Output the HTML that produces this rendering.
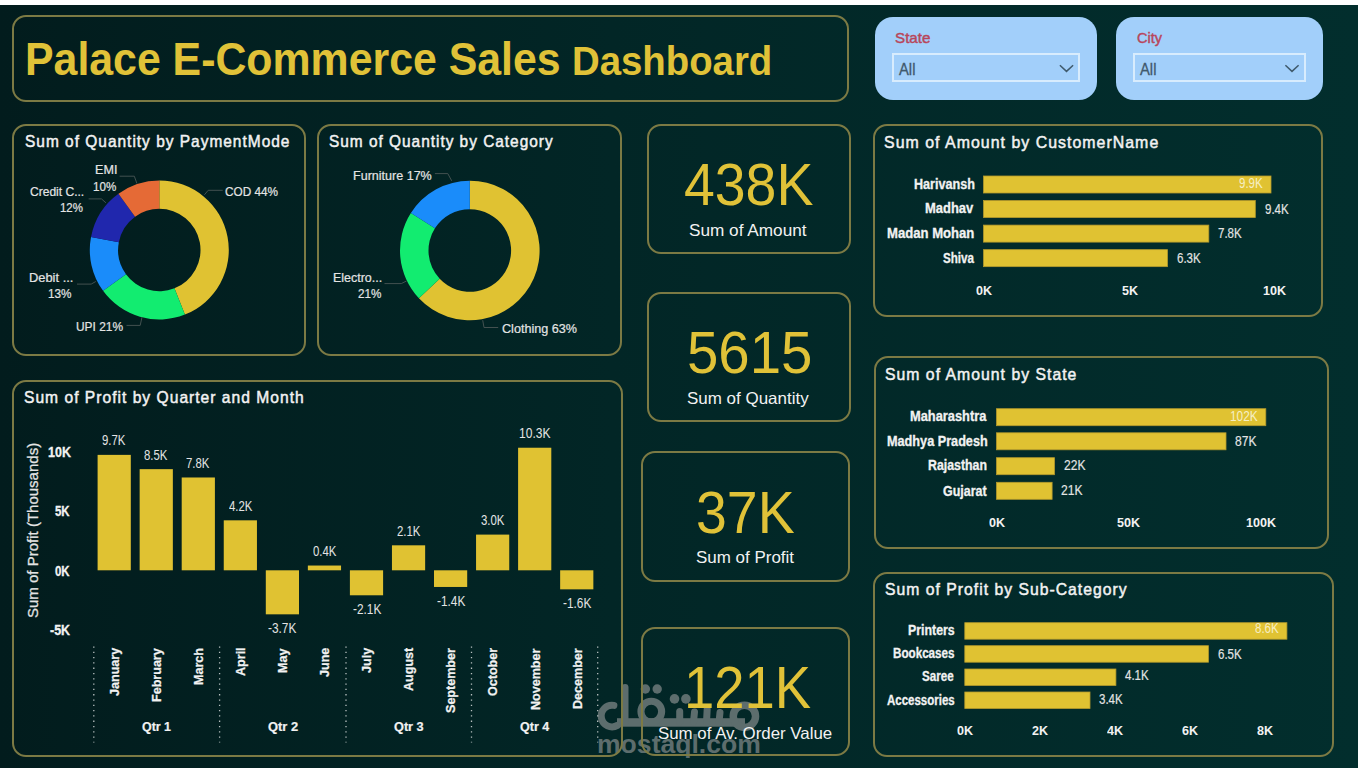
<!DOCTYPE html>
<html><head><meta charset="utf-8"><style>
html,body{margin:0;padding:0;width:1358px;height:775px;overflow:hidden;background:#fff}
#bg{position:absolute;left:0;top:5.3px;width:1358px;height:763.1px;background:linear-gradient(90deg,#021c1d 0%,#022626 45%,#022e2d 100%)}
.p{position:absolute;box-sizing:border-box;border:2px solid #7c7a44}
.t{position:absolute;white-space:nowrap;line-height:normal}
svg{position:absolute;left:0;top:0}
</style></head><body>
<div id="bg"></div>
<svg width="1358" height="775" viewBox="0 0 1358 775" style="position:absolute;left:0;top:0">
<g fill="#5d6d6d">
<circle cx="645.4" cy="689" r="4.7"/><circle cx="657.2" cy="689" r="4.7"/>
<circle cx="674.5" cy="698.9" r="4.8"/><circle cx="685.9" cy="698.9" r="4.8"/>
<rect x="617" y="718.2" width="128" height="8.5"/>
</g>
<g fill="none" stroke="#5d6d6d" stroke-linecap="round">
<path d="M613.9,705.4 A10.8,10.8 0 1 0 617.4,725.4" stroke-width="7"/>
<line x1="625.1" y1="687.5" x2="625.1" y2="722" stroke-width="6.8"/>
<circle cx="651.3" cy="711.6" r="10.35" stroke-width="7.1"/>
<circle cx="744.4" cy="716.3" r="11.15" stroke-width="7.5"/>
<line x1="679.7" y1="711.5" x2="679.7" y2="722" stroke-width="7"/>
<line x1="694.5" y1="712" x2="693.5" y2="722" stroke-width="7"/>
<line x1="707.2" y1="709" x2="706.5" y2="722" stroke-width="7"/>
<line x1="720" y1="712.5" x2="719" y2="722" stroke-width="7"/>
</g></svg><div class="t" style="left:596.98px;top:728.80px;font-family:'Liberation Sans';font-size:26.14px;font-weight:700;color:#5d6d6d;transform-origin:0 0;transform:scaleX(1.0170)">mostaql.com</div>
<div class="p" style="left:12.0px;top:14.5px;width:837.0px;height:87.3px;border-radius:14px"></div><div class="p" style="left:12.0px;top:124.2px;width:294.3px;height:231.8px;border-radius:14px"></div><div class="p" style="left:316.7px;top:124.2px;width:305.6px;height:231.8px;border-radius:14px"></div><div class="p" style="left:12.0px;top:379.5px;width:610.5px;height:377.0px;border-radius:14px"></div><div class="p" style="left:646.7px;top:123.6px;width:204.1px;height:130.4px;border-radius:14px"></div><div class="p" style="left:646.7px;top:291.7px;width:204.1px;height:130.1px;border-radius:14px"></div><div class="p" style="left:641.2px;top:450.9px;width:208.7px;height:130.9px;border-radius:14px"></div><div class="p" style="left:640.9px;top:626.8px;width:209.0px;height:129.7px;border-radius:14px"></div><div class="p" style="left:872.7px;top:124.3px;width:450.3px;height:192.3px;border-radius:14px"></div><div class="p" style="left:874.0px;top:356.4px;width:455.2px;height:192.6px;border-radius:14px"></div><div class="p" style="left:872.5px;top:571.9px;width:461.5px;height:185.4px;border-radius:14px"></div>
<div style="position:absolute;left:875.3px;top:17.1px;width:221.6px;height:83.4px;border-radius:18px;background:#a2cffa"></div><div style="position:absolute;left:892.4px;top:52.5px;width:183.3px;height:25.6px;border:2px solid #d8ecfd"></div><div style="position:absolute;left:1116px;top:17.1px;width:206.7px;height:83.4px;border-radius:18px;background:#a2cffa"></div><div style="position:absolute;left:1133.3px;top:52.5px;width:168.3px;height:25.6px;border:2px solid #d8ecfd"></div>
<svg width="1358" height="775" viewBox="0 0 1358 775"><path d="M159.30,180.50 A69.5,69.5 0 0 1 184.88,314.62 L174.47,288.31 A41.2,41.2 0 0 0 159.30,208.80 Z" fill="#e0c232"/><path d="M184.88,314.62 A69.5,69.5 0 0 1 103.07,290.85 L125.97,274.22 A41.2,41.2 0 0 0 174.47,288.31 Z" fill="#12ec70"/><path d="M103.07,290.85 A69.5,69.5 0 0 1 91.03,236.98 L118.83,242.28 A41.2,41.2 0 0 0 125.97,274.22 Z" fill="#1a8cfa"/><path d="M91.03,236.98 A69.5,69.5 0 0 1 118.45,193.77 L135.08,216.67 A41.2,41.2 0 0 0 118.83,242.28 Z" fill="#2027ad"/><path d="M118.45,193.77 A69.5,69.5 0 0 1 159.30,180.50 L159.30,208.80 A41.2,41.2 0 0 0 135.08,216.67 Z" fill="#e56a36"/><path d="M469.80,180.70 A69.8,69.8 0 1 1 418.92,298.28 L439.69,278.77 A41.3,41.3 0 1 0 469.80,209.20 Z" fill="#e0c232"/><path d="M418.92,298.28 A69.8,69.8 0 0 1 410.87,213.10 L434.93,228.37 A41.3,41.3 0 0 0 439.69,278.77 Z" fill="#12ec70"/><path d="M410.87,213.10 A69.8,69.8 0 0 1 469.80,180.70 L469.80,209.20 A41.3,41.3 0 0 0 434.93,228.37 Z" fill="#1a8cfa"/><polyline points="119.6,176.2 134.3,176.2 136.9,183.4" fill="none" stroke="#435150" stroke-width="1"/><polyline points="88.6,198.9 101.5,198.9 105.9,202.8" fill="none" stroke="#435150" stroke-width="1"/><polyline points="222.7,190.3 208.2,190.3 204.4,194.8" fill="none" stroke="#435150" stroke-width="1"/><polyline points="77.0,284.1 91.2,284.1 95.8,281.5" fill="none" stroke="#435150" stroke-width="1"/><polyline points="126.5,325.4 140.2,325.4 142.0,317.1" fill="none" stroke="#435150" stroke-width="1"/><polyline points="434.9,173.6 447.8,173.6 451.7,180.8" fill="none" stroke="#435150" stroke-width="1"/><polyline points="384.5,283.6 401.3,283.6 406.5,281.0" fill="none" stroke="#435150" stroke-width="1"/><polyline points="498.2,327.5 484.0,327.5 482.7,320.2" fill="none" stroke="#435150" stroke-width="1"/><rect x="97.60" y="454.87" width="33.2" height="115.43" fill="#e0c232"/><rect x="139.65" y="469.15" width="33.2" height="101.15" fill="#e0c232"/><rect x="181.70" y="477.48" width="33.2" height="92.82" fill="#e0c232"/><rect x="223.75" y="520.32" width="33.2" height="49.98" fill="#e0c232"/><rect x="265.80" y="570.30" width="33.2" height="44.03" fill="#e0c232"/><rect x="307.85" y="565.54" width="33.2" height="4.76" fill="#e0c232"/><rect x="349.90" y="570.30" width="33.2" height="24.99" fill="#e0c232"/><rect x="391.95" y="545.31" width="33.2" height="24.99" fill="#e0c232"/><rect x="434.00" y="570.30" width="33.2" height="16.66" fill="#e0c232"/><rect x="476.05" y="534.60" width="33.2" height="35.70" fill="#e0c232"/><rect x="518.10" y="447.73" width="33.2" height="122.57" fill="#e0c232"/><rect x="560.15" y="570.30" width="33.2" height="19.04" fill="#e0c232"/><line x1="93.8" y1="646.4" x2="93.8" y2="742.5" stroke="#b8c0c0" stroke-width="1.3" stroke-dasharray="1.3 4.0"/><line x1="219.6" y1="646.4" x2="219.6" y2="742.5" stroke="#b8c0c0" stroke-width="1.3" stroke-dasharray="1.3 4.0"/><line x1="346" y1="646.4" x2="346" y2="742.5" stroke="#b8c0c0" stroke-width="1.3" stroke-dasharray="1.3 4.0"/><line x1="471.5" y1="646.4" x2="471.5" y2="742.5" stroke="#b8c0c0" stroke-width="1.3" stroke-dasharray="1.3 4.0"/><line x1="597.7" y1="646.4" x2="597.7" y2="742.5" stroke="#b8c0c0" stroke-width="1.3" stroke-dasharray="1.3 4.0"/><rect x="983.60" y="176.00" width="287.40" height="17" fill="#e0c232" stroke="#b59a2c" stroke-width="0.8"/><rect x="983.60" y="200.55" width="271.70" height="17" fill="#e0c232" stroke="#b59a2c" stroke-width="0.8"/><rect x="983.60" y="225.10" width="225.20" height="17" fill="#e0c232" stroke="#b59a2c" stroke-width="0.8"/><rect x="983.60" y="249.65" width="183.90" height="17" fill="#e0c232" stroke="#b59a2c" stroke-width="0.8"/><rect x="996.50" y="408.70" width="269.30" height="17" fill="#e0c232" stroke="#b59a2c" stroke-width="0.8"/><rect x="996.50" y="432.80" width="229.50" height="17" fill="#e0c232" stroke="#b59a2c" stroke-width="0.8"/><rect x="996.50" y="457.70" width="58.00" height="17" fill="#e0c232" stroke="#b59a2c" stroke-width="0.8"/><rect x="996.50" y="482.30" width="55.60" height="17" fill="#e0c232" stroke="#b59a2c" stroke-width="0.8"/><rect x="964.80" y="622.70" width="322.10" height="16.5" fill="#e0c232" stroke="#b59a2c" stroke-width="0.8"/><rect x="964.80" y="645.70" width="243.60" height="16.5" fill="#e0c232" stroke="#b59a2c" stroke-width="0.8"/><rect x="964.80" y="669.00" width="151.10" height="16.5" fill="#e0c232" stroke="#b59a2c" stroke-width="0.8"/><rect x="964.80" y="692.00" width="125.20" height="16.5" fill="#e0c232" stroke="#b59a2c" stroke-width="0.8"/><polyline points="1059.9,65.2 1066.5,71.4 1073.1000000000001,65.2" fill="none" stroke="#3f5a6c" stroke-width="1.5"/><polyline points="1285.4,65.2 1292.0,71.4 1298.6000000000001,65.2" fill="none" stroke="#3f5a6c" stroke-width="1.5"/></svg>
<div class="t" style="left:24.89px;top:34.30px;font-family:'Liberation Sans';font-size:45.79px;font-weight:700;color:#e0c238;transform-origin:0 0;transform:scaleX(0.9354)">Palace E-Commerce Sales</div><div class="t" style="left:572.37px;top:39.30px;font-family:'Liberation Sans';font-size:39.83px;font-weight:700;color:#e0c238;transform-origin:0 0;transform:scaleX(0.9627)">Dashboard</div><div class="t" style="left:894.91px;top:28.70px;font-family:'Liberation Sans';font-size:15.41px;font-weight:400;color:#b8465a;-webkit-text-stroke:0.45px #b8465a;transform-origin:0 0;transform:scaleX(0.9857)">State</div><div class="t" style="left:898.90px;top:60.00px;font-family:'Liberation Sans';font-size:16.13px;font-weight:400;color:#41596c;-webkit-text-stroke:0.3px #41596c;transform-origin:0 0;transform:scaleX(0.9176)">All</div><div class="t" style="left:1136.50px;top:28.70px;font-family:'Liberation Sans';font-size:15.41px;font-weight:400;color:#b8465a;-webkit-text-stroke:0.45px #b8465a;transform-origin:0 0;transform:scaleX(0.9407)">City</div><div class="t" style="left:1140.00px;top:60.00px;font-family:'Liberation Sans';font-size:16.13px;font-weight:400;color:#41596c;-webkit-text-stroke:0.3px #41596c;transform-origin:0 0;transform:scaleX(0.9176)">All</div><div class="t" style="left:24.50px;top:131.40px;font-family:'Liberation Sans';font-size:17.15px;font-weight:400;color:#f2f2f2;-webkit-text-stroke:0.5px #f2f2f2;letter-spacing:1.1px;transform-origin:0 0;transform:scaleX(0.9027)">Sum of Quantity by PaymentMode</div><div class="t" style="left:329.10px;top:131.40px;font-family:'Liberation Sans';font-size:17.15px;font-weight:400;color:#f2f2f2;-webkit-text-stroke:0.5px #f2f2f2;letter-spacing:1.1px;transform-origin:0 0;transform:scaleX(0.8992)">Sum of Quantity by Category</div><div class="t" style="left:24.09px;top:386.80px;font-family:'Liberation Sans';font-size:17.15px;font-weight:400;color:#f2f2f2;-webkit-text-stroke:0.5px #f2f2f2;letter-spacing:1.1px;transform-origin:0 0;transform:scaleX(0.9115)">Sum of Profit by Quarter and Month</div><div class="t" style="left:884.37px;top:131.50px;font-family:'Liberation Sans';font-size:17.15px;font-weight:400;color:#f2f2f2;-webkit-text-stroke:0.5px #f2f2f2;letter-spacing:1.1px;transform-origin:0 0;transform:scaleX(0.9276)">Sum of Amount by CustomerName</div><div class="t" style="left:885.28px;top:363.60px;font-family:'Liberation Sans';font-size:17.15px;font-weight:400;color:#f2f2f2;-webkit-text-stroke:0.5px #f2f2f2;letter-spacing:1.1px;transform-origin:0 0;transform:scaleX(0.9203)">Sum of Amount by State</div><div class="t" style="left:884.68px;top:578.60px;font-family:'Liberation Sans';font-size:17.15px;font-weight:400;color:#f2f2f2;-webkit-text-stroke:0.5px #f2f2f2;letter-spacing:1.1px;transform-origin:0 0;transform:scaleX(0.9179)">Sum of Profit by Sub-Category</div><div class="t" style="left:95.31px;top:161.60px;font-family:'Liberation Sans';font-size:12.79px;font-weight:400;color:#e4e4e4;-webkit-text-stroke:0.2px #e4e4e4;transform-origin:0 0;transform:scaleX(0.9857)">EMI</div><div class="t" style="left:93.39px;top:178.60px;font-family:'Liberation Sans';font-size:12.79px;font-weight:400;color:#e4e4e4;-webkit-text-stroke:0.2px #e4e4e4;transform-origin:0 0;transform:scaleX(0.9080)">10%</div><div class="t" style="left:29.70px;top:183.80px;font-family:'Liberation Sans';font-size:12.79px;font-weight:400;color:#e4e4e4;-webkit-text-stroke:0.2px #e4e4e4;transform-origin:0 0;transform:scaleX(0.9421)">Credit C...</div><div class="t" style="left:60.10px;top:200.30px;font-family:'Liberation Sans';font-size:12.79px;font-weight:400;color:#e4e4e4;-webkit-text-stroke:0.2px #e4e4e4;transform-origin:0 0;transform:scaleX(0.8960)">12%</div><div class="t" style="left:225.40px;top:183.80px;font-family:'Liberation Sans';font-size:12.79px;font-weight:400;color:#e4e4e4;-webkit-text-stroke:0.2px #e4e4e4;transform-origin:0 0;transform:scaleX(0.9224)">COD 44%</div><div class="t" style="left:28.99px;top:269.50px;font-family:'Liberation Sans';font-size:12.79px;font-weight:400;color:#e4e4e4;-webkit-text-stroke:0.2px #e4e4e4;transform-origin:0 0;transform:scaleX(1.0071)">Debit ...</div><div class="t" style="left:48.38px;top:286.30px;font-family:'Liberation Sans';font-size:12.79px;font-weight:400;color:#e4e4e4;-webkit-text-stroke:0.2px #e4e4e4;transform-origin:0 0;transform:scaleX(0.9200)">13%</div><div class="t" style="left:75.57px;top:318.60px;font-family:'Liberation Sans';font-size:12.79px;font-weight:400;color:#e4e4e4;-webkit-text-stroke:0.2px #e4e4e4;transform-origin:0 0;transform:scaleX(0.9327)">UPI 21%</div><div class="t" style="left:353.02px;top:167.50px;font-family:'Liberation Sans';font-size:12.79px;font-weight:400;color:#e4e4e4;-webkit-text-stroke:0.2px #e4e4e4;transform-origin:0 0;transform:scaleX(0.9810)">Furniture 17%</div><div class="t" style="left:333.22px;top:269.50px;font-family:'Liberation Sans';font-size:12.79px;font-weight:400;color:#e4e4e4;-webkit-text-stroke:0.2px #e4e4e4;transform-origin:0 0;transform:scaleX(0.9755)">Electro...</div><div class="t" style="left:358.20px;top:286.30px;font-family:'Liberation Sans';font-size:12.79px;font-weight:400;color:#e4e4e4;-webkit-text-stroke:0.2px #e4e4e4;transform-origin:0 0;transform:scaleX(0.9154)">21%</div><div class="t" style="left:501.50px;top:320.60px;font-family:'Liberation Sans';font-size:12.79px;font-weight:400;color:#e4e4e4;-webkit-text-stroke:0.2px #e4e4e4;transform-origin:0 0;transform:scaleX(0.9855)">Clothing 63%</div><div class="t" style="left:683.86px;top:150.90px;font-family:'Liberation Sans';font-size:59.01px;font-weight:400;color:#e0c238;transform-origin:0 0;transform:scaleX(0.9390)">438K</div><div class="t" style="left:686.89px;top:319.00px;font-family:'Liberation Sans';font-size:59.01px;font-weight:400;color:#e0c238;transform-origin:0 0;transform:scaleX(0.9559)">5615</div><div class="t" style="left:696.32px;top:478.60px;font-family:'Liberation Sans';font-size:59.01px;font-weight:400;color:#e0c238;transform-origin:0 0;transform:scaleX(0.9392)">37K</div><div class="t" style="left:683.51px;top:653.60px;font-family:'Liberation Sans';font-size:59.01px;font-weight:400;color:#e0c238;transform-origin:0 0;transform:scaleX(0.9226)">121K</div><div class="t" style="left:688.64px;top:220.60px;font-family:'Liberation Sans';font-size:16.28px;font-weight:400;color:#f2f2f2;transform-origin:0 0;transform:scaleX(1.0568)">Sum of Amount</div><div class="t" style="left:686.86px;top:388.70px;font-family:'Liberation Sans';font-size:16.28px;font-weight:400;color:#f2f2f2;transform-origin:0 0;transform:scaleX(1.0431)">Sum of Quantity</div><div class="t" style="left:696.26px;top:548.30px;font-family:'Liberation Sans';font-size:16.28px;font-weight:400;color:#f2f2f2;transform-origin:0 0;transform:scaleX(1.0430)">Sum of Profit</div><div class="t" style="left:657.96px;top:724.20px;font-family:'Liberation Sans';font-size:16.28px;font-weight:400;color:#f2f2f2;transform-origin:0 0;transform:scaleX(1.0359)">Sum of Av. Order Value</div><div class="t" style="left:47.60px;top:444.10px;font-family:'Liberation Sans';font-size:13.81px;font-weight:700;color:#f2f2f2;-webkit-text-stroke:0.3px #f2f2f2;transform-origin:0 0;transform:scaleX(0.9042)">10K</div><div class="t" style="left:55.30px;top:503.20px;font-family:'Liberation Sans';font-size:13.81px;font-weight:700;color:#f2f2f2;-webkit-text-stroke:0.3px #f2f2f2;transform-origin:0 0;transform:scaleX(0.8278)">5K</div><div class="t" style="left:55.30px;top:562.60px;font-family:'Liberation Sans';font-size:13.81px;font-weight:700;color:#f2f2f2;-webkit-text-stroke:0.3px #f2f2f2;transform-origin:0 0;transform:scaleX(0.8278)">0K</div><div class="t" style="left:50.40px;top:621.70px;font-family:'Liberation Sans';font-size:13.81px;font-weight:700;color:#f2f2f2;-webkit-text-stroke:0.3px #f2f2f2;transform-origin:0 0;transform:scaleX(0.9000)">-5K</div><div class="t" style="left:102.35px;top:432.27px;font-family:'Liberation Sans';font-size:13.95px;font-weight:400;color:#e4e4e4;transform-origin:0 0;transform:scaleX(0.8172)">9.7K</div><div class="t" style="left:144.40px;top:446.55px;font-family:'Liberation Sans';font-size:13.95px;font-weight:400;color:#e4e4e4;transform-origin:0 0;transform:scaleX(0.8172)">8.5K</div><div class="t" style="left:186.45px;top:454.88px;font-family:'Liberation Sans';font-size:13.95px;font-weight:400;color:#e4e4e4;transform-origin:0 0;transform:scaleX(0.8172)">7.8K</div><div class="t" style="left:228.50px;top:497.72px;font-family:'Liberation Sans';font-size:13.95px;font-weight:400;color:#e4e4e4;transform-origin:0 0;transform:scaleX(0.8172)">4.2K</div><div class="t" style="left:268.40px;top:620.03px;font-family:'Liberation Sans';font-size:13.95px;font-weight:400;color:#e4e4e4;transform-origin:0 0;transform:scaleX(0.8485)">-3.7K</div><div class="t" style="left:312.60px;top:542.94px;font-family:'Liberation Sans';font-size:13.95px;font-weight:400;color:#e4e4e4;transform-origin:0 0;transform:scaleX(0.8172)">0.4K</div><div class="t" style="left:352.50px;top:600.99px;font-family:'Liberation Sans';font-size:13.95px;font-weight:400;color:#e4e4e4;transform-origin:0 0;transform:scaleX(0.8485)">-2.1K</div><div class="t" style="left:396.70px;top:522.71px;font-family:'Liberation Sans';font-size:13.95px;font-weight:400;color:#e4e4e4;transform-origin:0 0;transform:scaleX(0.8172)">2.1K</div><div class="t" style="left:436.60px;top:592.66px;font-family:'Liberation Sans';font-size:13.95px;font-weight:400;color:#e4e4e4;transform-origin:0 0;transform:scaleX(0.8485)">-1.4K</div><div class="t" style="left:480.80px;top:512.00px;font-family:'Liberation Sans';font-size:13.95px;font-weight:400;color:#e4e4e4;transform-origin:0 0;transform:scaleX(0.8172)">3.0K</div><div class="t" style="left:518.74px;top:425.13px;font-family:'Liberation Sans';font-size:13.95px;font-weight:400;color:#e4e4e4;transform-origin:0 0;transform:scaleX(0.8629)">10.3K</div><div class="t" style="left:562.75px;top:595.04px;font-family:'Liberation Sans';font-size:13.95px;font-weight:400;color:#e4e4e4;transform-origin:0 0;transform:scaleX(0.8485)">-1.6K</div><div class="t" style="left:107.00px;top:696.04px;font-family:'Liberation Sans';font-size:13.37px;font-weight:700;color:#f2f2f2;-webkit-text-stroke:0.25px #f2f2f2;transform-origin:0 0;transform:rotate(-90deg) scaleX(0.94)">January</div><div class="t" style="left:149.05px;top:701.68px;font-family:'Liberation Sans';font-size:13.37px;font-weight:700;color:#f2f2f2;-webkit-text-stroke:0.25px #f2f2f2;transform-origin:0 0;transform:rotate(-90deg) scaleX(0.94)">February</div><div class="t" style="left:191.10px;top:684.76px;font-family:'Liberation Sans';font-size:13.37px;font-weight:700;color:#f2f2f2;-webkit-text-stroke:0.25px #f2f2f2;transform-origin:0 0;transform:rotate(-90deg) scaleX(0.94)">March</div><div class="t" style="left:233.15px;top:676.30px;font-family:'Liberation Sans';font-size:13.37px;font-weight:700;color:#f2f2f2;-webkit-text-stroke:0.25px #f2f2f2;transform-origin:0 0;transform:rotate(-90deg) scaleX(0.94)">April</div><div class="t" style="left:275.20px;top:672.54px;font-family:'Liberation Sans';font-size:13.37px;font-weight:700;color:#f2f2f2;-webkit-text-stroke:0.25px #f2f2f2;transform-origin:0 0;transform:rotate(-90deg) scaleX(0.94)">May</div><div class="t" style="left:317.25px;top:677.24px;font-family:'Liberation Sans';font-size:13.37px;font-weight:700;color:#f2f2f2;-webkit-text-stroke:0.25px #f2f2f2;transform-origin:0 0;transform:rotate(-90deg) scaleX(0.94)">June</div><div class="t" style="left:359.30px;top:673.48px;font-family:'Liberation Sans';font-size:13.37px;font-weight:700;color:#f2f2f2;-webkit-text-stroke:0.25px #f2f2f2;transform-origin:0 0;transform:rotate(-90deg) scaleX(0.94)">July</div><div class="t" style="left:401.35px;top:691.34px;font-family:'Liberation Sans';font-size:13.37px;font-weight:700;color:#f2f2f2;-webkit-text-stroke:0.25px #f2f2f2;transform-origin:0 0;transform:rotate(-90deg) scaleX(0.94)">August</div><div class="t" style="left:443.40px;top:712.96px;font-family:'Liberation Sans';font-size:13.37px;font-weight:700;color:#f2f2f2;-webkit-text-stroke:0.25px #f2f2f2;transform-origin:0 0;transform:rotate(-90deg) scaleX(0.94)">September</div><div class="t" style="left:485.45px;top:696.04px;font-family:'Liberation Sans';font-size:13.37px;font-weight:700;color:#f2f2f2;-webkit-text-stroke:0.25px #f2f2f2;transform-origin:0 0;transform:rotate(-90deg) scaleX(0.94)">October</div><div class="t" style="left:527.50px;top:710.14px;font-family:'Liberation Sans';font-size:13.37px;font-weight:700;color:#f2f2f2;-webkit-text-stroke:0.25px #f2f2f2;transform-origin:0 0;transform:rotate(-90deg) scaleX(0.94)">November</div><div class="t" style="left:569.55px;top:709.20px;font-family:'Liberation Sans';font-size:13.37px;font-weight:700;color:#f2f2f2;-webkit-text-stroke:0.25px #f2f2f2;transform-origin:0 0;transform:rotate(-90deg) scaleX(0.94)">December</div><div class="t" style="left:141.90px;top:720.00px;font-family:'Liberation Sans';font-size:12.5px;font-weight:700;color:#f2f2f2;-webkit-text-stroke:0.2px #f2f2f2;transform-origin:0 0;transform:scaleX(0.9931)">Qtr 1</div><div class="t" style="left:267.60px;top:720.00px;font-family:'Liberation Sans';font-size:12.5px;font-weight:700;color:#f2f2f2;-webkit-text-stroke:0.2px #f2f2f2;transform-origin:0 0;transform:scaleX(1.0310)">Qtr 2</div><div class="t" style="left:394.00px;top:720.00px;font-family:'Liberation Sans';font-size:12.5px;font-weight:700;color:#f2f2f2;-webkit-text-stroke:0.2px #f2f2f2;transform-origin:0 0;transform:scaleX(1.0172)">Qtr 3</div><div class="t" style="left:520.00px;top:720.00px;font-family:'Liberation Sans';font-size:12.5px;font-weight:700;color:#f2f2f2;-webkit-text-stroke:0.2px #f2f2f2;transform-origin:0 0;transform:scaleX(1.0000)">Qtr 4</div><div class="t" style="left:24.60px;top:618.13px;font-family:'Liberation Sans';font-size:14.54px;font-weight:400;color:#e4e4e4;-webkit-text-stroke:0.25px #e4e4e4;transform-origin:0 0;transform:rotate(-90deg) scaleX(1.0327)">Sum of Profit (Thousands)</div><div class="t" style="left:913.69px;top:175.70px;font-family:'Liberation Sans';font-size:13.81px;font-weight:700;color:#f2f2f2;-webkit-text-stroke:0.3px #f2f2f2;transform-origin:0 0;transform:scaleX(0.9123)">Harivansh</div><div class="t" style="left:925.06px;top:200.00px;font-family:'Liberation Sans';font-size:13.81px;font-weight:700;color:#f2f2f2;-webkit-text-stroke:0.3px #f2f2f2;transform-origin:0 0;transform:scaleX(0.9392)">Madhav</div><div class="t" style="left:886.55px;top:225.20px;font-family:'Liberation Sans';font-size:13.81px;font-weight:700;color:#f2f2f2;-webkit-text-stroke:0.3px #f2f2f2;transform-origin:0 0;transform:scaleX(0.9495)">Madan Mohan</div><div class="t" style="left:942.70px;top:249.60px;font-family:'Liberation Sans';font-size:13.81px;font-weight:700;color:#f2f2f2;-webkit-text-stroke:0.3px #f2f2f2;transform-origin:0 0;transform:scaleX(0.8432)">Shiva</div><div class="t" style="left:1238.60px;top:175.30px;font-family:'Liberation Sans';font-size:13.81px;font-weight:400;color:#f6efc4;transform-origin:0 0;transform:scaleX(0.8357)">9.9K</div><div class="t" style="left:1264.60px;top:200.50px;font-family:'Liberation Sans';font-size:13.81px;font-weight:400;color:#e4e4e4;-webkit-text-stroke:0.15px #e4e4e4;transform-origin:0 0;transform:scaleX(0.8357)">9.4K</div><div class="t" style="left:1218.30px;top:225.00px;font-family:'Liberation Sans';font-size:13.81px;font-weight:400;color:#e4e4e4;-webkit-text-stroke:0.15px #e4e4e4;transform-origin:0 0;transform:scaleX(0.8357)">7.8K</div><div class="t" style="left:1176.80px;top:249.50px;font-family:'Liberation Sans';font-size:13.81px;font-weight:400;color:#e4e4e4;-webkit-text-stroke:0.15px #e4e4e4;transform-origin:0 0;transform:scaleX(0.8357)">6.3K</div><div class="t" style="left:976.00px;top:283.10px;font-family:'Liberation Sans';font-size:13.52px;font-weight:700;color:#f2f2f2;transform-origin:0 0;transform:scaleX(0.9300)">0K</div><div class="t" style="left:1121.60px;top:283.10px;font-family:'Liberation Sans';font-size:13.52px;font-weight:700;color:#f2f2f2;transform-origin:0 0;transform:scaleX(0.9300)">5K</div><div class="t" style="left:1263.47px;top:283.10px;font-family:'Liberation Sans';font-size:13.52px;font-weight:700;color:#f2f2f2;transform-origin:0 0;transform:scaleX(0.9300)">10K</div><div class="t" style="left:910.37px;top:407.90px;font-family:'Liberation Sans';font-size:13.81px;font-weight:700;color:#f2f2f2;-webkit-text-stroke:0.3px #f2f2f2;transform-origin:0 0;transform:scaleX(0.9309)">Maharashtra</div><div class="t" style="left:886.58px;top:432.80px;font-family:'Liberation Sans';font-size:13.81px;font-weight:700;color:#f2f2f2;-webkit-text-stroke:0.3px #f2f2f2;transform-origin:0 0;transform:scaleX(0.9185)">Madhya Pradesh</div><div class="t" style="left:927.71px;top:457.40px;font-family:'Liberation Sans';font-size:13.81px;font-weight:700;color:#f2f2f2;-webkit-text-stroke:0.3px #f2f2f2;transform-origin:0 0;transform:scaleX(0.8938)">Rajasthan</div><div class="t" style="left:942.50px;top:482.50px;font-family:'Liberation Sans';font-size:13.81px;font-weight:700;color:#f2f2f2;-webkit-text-stroke:0.3px #f2f2f2;transform-origin:0 0;transform:scaleX(0.9020)">Gujarat</div><div class="t" style="left:1229.84px;top:407.50px;font-family:'Liberation Sans';font-size:13.81px;font-weight:400;color:#f6efc4;transform-origin:0 0;transform:scaleX(0.8613)">102K</div><div class="t" style="left:1235.30px;top:432.60px;font-family:'Liberation Sans';font-size:13.81px;font-weight:400;color:#e4e4e4;-webkit-text-stroke:0.15px #e4e4e4;transform-origin:0 0;transform:scaleX(0.8750)">87K</div><div class="t" style="left:1063.50px;top:457.40px;font-family:'Liberation Sans';font-size:13.81px;font-weight:400;color:#e4e4e4;-webkit-text-stroke:0.15px #e4e4e4;transform-origin:0 0;transform:scaleX(0.8750)">22K</div><div class="t" style="left:1060.80px;top:482.00px;font-family:'Liberation Sans';font-size:13.81px;font-weight:400;color:#e4e4e4;-webkit-text-stroke:0.15px #e4e4e4;transform-origin:0 0;transform:scaleX(0.8750)">21K</div><div class="t" style="left:988.89px;top:515.20px;font-family:'Liberation Sans';font-size:13.52px;font-weight:700;color:#f2f2f2;transform-origin:0 0;transform:scaleX(0.9300)">0K</div><div class="t" style="left:1116.88px;top:515.20px;font-family:'Liberation Sans';font-size:13.52px;font-weight:700;color:#f2f2f2;transform-origin:0 0;transform:scaleX(0.9300)">50K</div><div class="t" style="left:1245.82px;top:515.20px;font-family:'Liberation Sans';font-size:13.52px;font-weight:700;color:#f2f2f2;transform-origin:0 0;transform:scaleX(0.9300)">100K</div><div class="t" style="left:907.80px;top:622.10px;font-family:'Liberation Sans';font-size:13.81px;font-weight:700;color:#f2f2f2;-webkit-text-stroke:0.3px #f2f2f2;transform-origin:0 0;transform:scaleX(0.8961)">Printers</div><div class="t" style="left:892.76px;top:645.40px;font-family:'Liberation Sans';font-size:13.81px;font-weight:700;color:#f2f2f2;-webkit-text-stroke:0.3px #f2f2f2;transform-origin:0 0;transform:scaleX(0.8444)">Bookcases</div><div class="t" style="left:922.40px;top:668.40px;font-family:'Liberation Sans';font-size:13.81px;font-weight:700;color:#f2f2f2;-webkit-text-stroke:0.3px #f2f2f2;transform-origin:0 0;transform:scaleX(0.8421)">Saree</div><div class="t" style="left:887.00px;top:691.70px;font-family:'Liberation Sans';font-size:13.81px;font-weight:700;color:#f2f2f2;-webkit-text-stroke:0.3px #f2f2f2;transform-origin:0 0;transform:scaleX(0.8321)">Accessories</div><div class="t" style="left:1254.60px;top:620.30px;font-family:'Liberation Sans';font-size:13.81px;font-weight:400;color:#f6efc4;transform-origin:0 0;transform:scaleX(0.8357)">8.6K</div><div class="t" style="left:1217.70px;top:645.50px;font-family:'Liberation Sans';font-size:13.81px;font-weight:400;color:#e4e4e4;-webkit-text-stroke:0.15px #e4e4e4;transform-origin:0 0;transform:scaleX(0.8357)">6.5K</div><div class="t" style="left:1125.20px;top:667.20px;font-family:'Liberation Sans';font-size:13.81px;font-weight:400;color:#e4e4e4;-webkit-text-stroke:0.15px #e4e4e4;transform-origin:0 0;transform:scaleX(0.8357)">4.1K</div><div class="t" style="left:1099.00px;top:691.00px;font-family:'Liberation Sans';font-size:13.81px;font-weight:400;color:#e4e4e4;-webkit-text-stroke:0.15px #e4e4e4;transform-origin:0 0;transform:scaleX(0.8357)">3.4K</div><div class="t" style="left:957.10px;top:723.00px;font-family:'Liberation Sans';font-size:13.52px;font-weight:700;color:#f2f2f2;transform-origin:0 0;transform:scaleX(0.9300)">0K</div><div class="t" style="left:1031.69px;top:723.00px;font-family:'Liberation Sans';font-size:13.52px;font-weight:700;color:#f2f2f2;transform-origin:0 0;transform:scaleX(0.9300)">2K</div><div class="t" style="left:1106.60px;top:723.00px;font-family:'Liberation Sans';font-size:13.52px;font-weight:700;color:#f2f2f2;transform-origin:0 0;transform:scaleX(0.9300)">4K</div><div class="t" style="left:1182.39px;top:723.00px;font-family:'Liberation Sans';font-size:13.52px;font-weight:700;color:#f2f2f2;transform-origin:0 0;transform:scaleX(0.9300)">6K</div><div class="t" style="left:1257.30px;top:723.00px;font-family:'Liberation Sans';font-size:13.52px;font-weight:700;color:#f2f2f2;transform-origin:0 0;transform:scaleX(0.9300)">8K</div>
</body></html>
